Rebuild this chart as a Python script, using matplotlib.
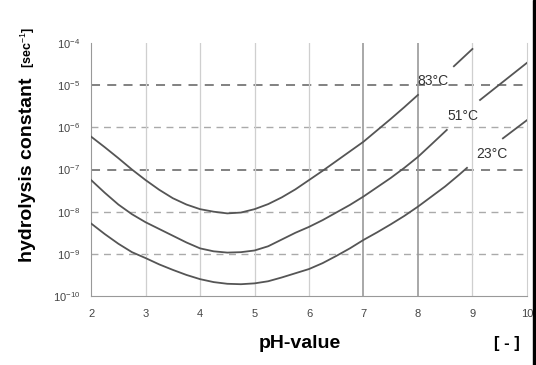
import numpy as np
import matplotlib
matplotlib.use("Agg")
import matplotlib.pyplot as plt
from matplotlib.patches import Rectangle

plt.rcParams['font.family'] = ['Liberation Sans', 'DejaVu Sans']
plt.rcParams['mathtext.fontset'] = 'custom'
plt.rcParams['mathtext.rm'] = 'Liberation Sans'
plt.rcParams['mathtext.it'] = 'Liberation Sans'

# curves: pH and log10(k); second part after the label gap
ph_83 = [2.0, 2.25, 2.5, 2.75, 3.0, 3.25, 3.5, 3.75, 4.0, 4.25, 4.5, 4.75, 5.0,
         5.25, 5.5, 5.75, 6.0, 6.25, 6.5, 6.75, 7.0, 7.25, 7.5, 7.75, 8.0]
lg_83 = [-6.22, -6.47, -6.73, -7.0, -7.25, -7.48, -7.68, -7.83, -7.94, -8.0, -8.04,
         -8.02, -7.94, -7.82, -7.66, -7.47, -7.25, -7.03, -6.8, -6.57, -6.34, -6.07,
         -5.8, -5.52, -5.23]
ph_83b = [8.66, 9.0]
lg_83b = [-4.55, -4.14]

ph_51 = [2.0, 2.25, 2.5, 2.75, 3.0, 3.25, 3.5, 3.75, 4.0, 4.25, 4.5, 4.75, 5.0,
         5.25, 5.5, 5.75, 6.0, 6.25, 6.5, 6.75, 7.0, 7.25, 7.5, 7.75, 8.0, 8.25, 8.53]
lg_51 = [-7.25, -7.55, -7.83, -8.06, -8.25, -8.41, -8.57, -8.73, -8.87, -8.94, -8.97,
         -8.96, -8.92, -8.82, -8.66, -8.5, -8.36, -8.2, -8.02, -7.84, -7.64, -7.42,
         -7.2, -6.96, -6.7, -6.4, -6.06]
ph_51b = [9.14, 10.0]
lg_51b = [-5.35, -4.47]

ph_23 = [2.0, 2.25, 2.5, 2.75, 3.0, 3.25, 3.5, 3.75, 4.0, 4.25, 4.5, 4.75, 5.0,
         5.25, 5.5, 5.75, 6.0, 6.25, 6.5, 6.75, 7.0, 7.25, 7.5, 7.75, 8.0, 8.25,
         8.5, 8.75, 8.9]
lg_23 = [-8.28, -8.53, -8.76, -8.96, -9.1, -9.25, -9.38, -9.5, -9.6, -9.67, -9.71,
         -9.72, -9.7, -9.65, -9.56, -9.46, -9.36, -9.22, -9.05, -8.87, -8.67, -8.49,
         -8.3, -8.1, -7.88, -7.64, -7.4, -7.13, -6.96]
ph_23b = [9.56, 10.0]
lg_23b = [-6.26, -5.83]

labels = ["83°C", "51°C", "23°C"]
label_pos = [(8.28, -4.9), (8.83, -5.72), (9.36, -6.62)]

x_ticks = [2, 3, 4, 5, 6, 7, 8, 9, 10]
y_exp = [-4, -5, -6, -7, -8, -9, -10]

fig = plt.figure(figsize=(5.36, 3.65), dpi=100)
ax = fig.add_axes([0.170, 0.189, 0.813, 0.693])

# grid
for e in [-5, -6, -7, -8, -9]:
    dark = e in (-5, -7)
    ax.axhline(10.0 ** e, color='#777777' if dark else '#aaaaaa',
               lw=1.3 if dark else 1.0, ls=(0, (5, 4)), zorder=1)
for xv in [3, 4, 5, 6, 7, 8, 9]:
    dark = xv in (7, 8)
    ax.axvline(xv, color='#999999' if dark else '#cfcfcf',
               lw=1.2 if dark else 0.9, zorder=1)

cc = '#555555'
for ph, lg in [(ph_83, lg_83), (ph_83b, lg_83b), (ph_51, lg_51),
               (ph_51b, lg_51b), (ph_23, lg_23), (ph_23b, lg_23b)]:
    ax.plot(ph, 10.0 ** np.array(lg), color=cc, lw=1.3, zorder=3)

for t, (px, py) in zip(labels, label_pos):
    ax.text(px, 10.0 ** py, t, fontsize=10, color='#333333',
            ha='center', va='center', zorder=4)

ax.set_yscale('log')
ax.set_xlim(2, 10)
ax.set_ylim(1e-10, 1e-4)
ax.set_xticks(x_ticks)
ax.set_xticklabels([str(v) for v in x_ticks])
ax.set_yticks([10.0 ** e for e in y_exp])
ax.set_yticklabels(['$10^{%d}$' % e for e in y_exp])
ax.minorticks_off()
ax.tick_params(length=0, labelsize=8, labelcolor='#444444', pad=8)
ax.tick_params(axis='x', pad=9)

ax.spines['top'].set_visible(False)
ax.spines['left'].set_color('#999999')
ax.spines['bottom'].set_color('#999999')
ax.spines['right'].set_color('#cfcfcf')

fig.text(0.052, 0.535, 'hydrolysis constant', rotation=90, fontsize=14,
         fontweight='bold', ha='center', va='center')
fig.text(0.052, 0.87, '[sec$^{-1}$]', rotation=90, fontsize=9,
         fontweight='bold', ha='center', va='center')
fig.text(0.56, 0.06, 'pH-value', fontsize=14, fontweight='bold',
         ha='center', va='center')
fig.text(0.946, 0.06, '[ - ]', fontsize=12, fontweight='bold',
         ha='center', va='center')

fig.patches.append(Rectangle((0.994, 0), 0.006, 1, transform=fig.transFigure,
                             color='black', zorder=5))

fig.savefig('out.png', dpi=100)
